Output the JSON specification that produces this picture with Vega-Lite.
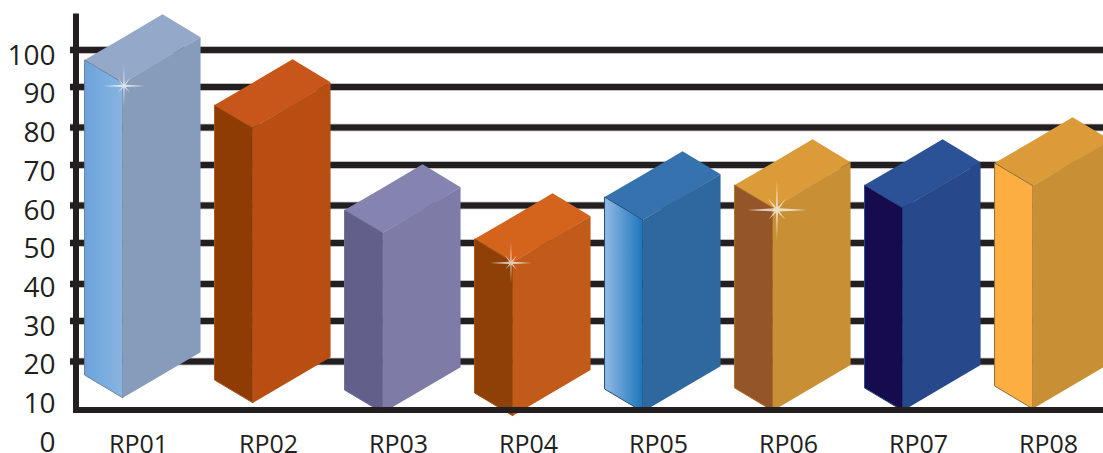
{
  "$schema": "https://vega.github.io/schema/vega-lite/v6.json",
  "width": 1103,
  "height": 453,
  "padding": 0,
  "autosize": {"type": "none"},
  "background": "white",
  "view": {"stroke": null},
  "config": {"font": "Open Sans"},
  "datasets": {
    "bars": [
      {"name": "RP01", "i": 0, "top": 98.45, "bottom": 17.16},
      {"name": "RP02", "i": 1, "top": 86.84, "bottom": 15.87},
      {"name": "RP03", "i": 2, "top": 59.74, "bottom": 13.29},
      {"name": "RP04", "i": 3, "top": 52.26, "bottom": 12.52},
      {"name": "RP05", "i": 4, "top": 63.1, "bottom": 13.55},
      {"name": "RP06", "i": 5, "top": 66.19, "bottom": 13.81},
      {"name": "RP07", "i": 6, "top": 66.19, "bottom": 13.81},
      {"name": "RP08", "i": 7, "top": 71.87, "bottom": 14.32}
    ],
    "levels": [
      {"level": 101.03}, {"level": 91.48}, {"level": 81.03},
      {"level": 71.35}, {"level": 60.88}, {"level": 51.23},
      {"level": 40.65}, {"level": 31.1}, {"level": 20.62}
    ],
    "frame": [
      {"spine": -0.477, "floor": 8.13, "ceiling": 110.45, "foot": 7.35, "start": -0.5, "end": 7.43}
    ],
    "glints": [
      {"at": -0.108, "v": 91.74, "glow": 1},
      {"at": 2.869, "v": 46.06, "glow": 1},
      {"at": 4.915, "v": 59.74, "glow": 2}
    ]
  },
  "layer": [
    {
      "data": {"name": "levels"},
      "mark": {"type": "rule", "stroke": "#a8a8a8", "strokeWidth": 7.5},
      "encoding": {
        "y": {
          "field": "level", "type": "quantitative",
          "scale": {"domain": [-2.97, 113.94], "range": [453, 0], "nice": false, "zero": false},
          "axis": {
            "title": null, "grid": false, "domain": false, "ticks": false,
            "values": [0, 10, 20, 30, 40, 50, 60, 70, 80, 90, 100],
            "offset": -55, "labelPadding": 0, "labelOffset": 2,
            "labelFontSize": 28, "labelColor": "#231f20", "labelFont": "Open Sans",
            "labelOverlap": false, "labelBound": false, "labelFlush": false
          }
        },
        "x": {
          "datum": -0.523, "type": "quantitative",
          "scale": {"domain": [-1.0615, 7.423], "range": [0, 1103], "nice": false, "zero": false},
          "axis": {
            "title": null, "grid": false, "domain": false, "ticks": false,
            "values": [0, 1, 2, 3, 4, 5, 6, 7],
            "labelExpr": "'RP0' + (datum.value + 1)",
            "offset": -1, "labelPadding": 0, "labelBaseline": "alphabetic",
            "labelFontSize": 25, "labelColor": "#231f20", "labelFont": "Open Sans",
            "labelOverlap": false, "labelBound": false, "labelFlush": false
          }
        },
        "x2": {"datum": 7.43}
      }
    },
    {
      "data": {"name": "levels"},
      "mark": {"type": "rule", "stroke": "#231f20", "strokeWidth": 6},
      "encoding": {
        "y": {"field": "level", "type": "quantitative"},
        "x": {"datum": -0.523, "type": "quantitative"},
        "x2": {"datum": 7.43}
      }
    },
    {
      "data": {"name": "frame"},
      "mark": {"type": "rule", "stroke": "#231f20", "strokeWidth": 6},
      "encoding": {
        "x": {"field": "spine", "type": "quantitative"},
        "y": {"field": "ceiling", "type": "quantitative"},
        "y2": {"field": "foot"}
      }
    },
    {
      "data": {"name": "bars"},
      "transform": [
        {"calculate": "[0, 0.295, 0.6, 0.8923]", "as": "dx"},
        {"calculate": "[0, -5.9, 0, 5.9]", "as": "near"},
        {"calculate": "[0, 5.75, 11.8, 5.9]", "as": "far"},
        {"flatten": ["dx", "near", "far"]},
        {"calculate": "datum.i - 0.411 + datum.dx", "as": "xp"},
        {"calculate": "datum.top + datum.far", "as": "upper"},
        {"calculate": "datum.top + datum.near", "as": "lower"}
      ],
      "mark": {"type": "area", "orient": "vertical", "clip": true},
      "encoding": {
        "x": {"field": "xp", "type": "quantitative"},
        "y": {"field": "upper", "type": "quantitative"},
        "y2": {"field": "lower"},
        "fill": {
          "field": "name", "type": "nominal", "legend": null,
          "scale": {
            "domain": ["RP01", "RP02", "RP03", "RP04", "RP05", "RP06", "RP07", "RP08"],
            "range": ["#94a9ca", "#c85519", "#8583b0", "#d4641c", "#3672ae", "#dc9b39", "#2b5297", "#dc9b39"]
          }
        }
      }
    },
    {
      "data": {"name": "bars"},
      "transform": [
        {"filter": "datum.name !== 'RP01' && datum.name !== 'RP05'"},
        {"calculate": "[0, 0.295]", "as": "dx"},
        {"calculate": "[0, -5.9]", "as": "drop"},
        {"flatten": ["dx", "drop"]},
        {"calculate": "datum.i - 0.411 + datum.dx", "as": "xp"},
        {"calculate": "datum.top + datum.drop", "as": "upper"},
        {"calculate": "datum.bottom + datum.drop", "as": "lower"}
      ],
      "mark": {"type": "area", "orient": "vertical", "strokeWidth": 1, "clip": true},
      "encoding": {
        "x": {"field": "xp", "type": "quantitative"},
        "y": {"field": "upper", "type": "quantitative"},
        "y2": {"field": "lower"},
        "fill": {
          "field": "name", "type": "nominal", "legend": null,
          "scale": {
            "domain": ["RP02", "RP03", "RP04", "RP06", "RP07", "RP08"],
            "range": ["#8e3b04", "#62608a", "#8f4006", "#945628", "#160b4c", "#fdae40"]
          }
        },
        "stroke": {
          "field": "name", "type": "nominal", "legend": null,
          "scale": {
            "domain": ["RP02", "RP03", "RP04", "RP06", "RP07", "RP08"],
            "range": ["#b0531f", "#6f6d98", "#a8500f", "#a77327", "#27488a", "#8c6d3a"]
          }
        }
      }
    },
    {
      "data": {"name": "bars"},
      "transform": [
        {"filter": "datum.name === 'RP01'"},
        {"calculate": "[0, 0.295]", "as": "dx"},
        {"calculate": "[0, -5.9]", "as": "drop"},
        {"flatten": ["dx", "drop"]},
        {"calculate": "datum.i - 0.411 + datum.dx", "as": "xp"},
        {"calculate": "datum.top + datum.drop", "as": "upper"},
        {"calculate": "datum.bottom + datum.drop", "as": "lower"}
      ],
      "mark": {
        "type": "area", "orient": "vertical", "strokeWidth": 1, "stroke": "#6f7f99",
        "fill": {"gradient": "linear", "x1": 0, "y1": 0, "x2": 1, "y2": 0, "stops": [{"offset": 0, "color": "#6ca3dc"}, {"offset": 1, "color": "#88b5e0"}]}
      },
      "encoding": {
        "x": {"field": "xp", "type": "quantitative"},
        "y": {"field": "upper", "type": "quantitative"},
        "y2": {"field": "lower"}
      }
    },
    {
      "data": {"name": "bars"},
      "transform": [
        {"filter": "datum.name === 'RP05'"},
        {"calculate": "[0, 0.295]", "as": "dx"},
        {"calculate": "[0, -5.9]", "as": "drop"},
        {"flatten": ["dx", "drop"]},
        {"calculate": "datum.i - 0.411 + datum.dx", "as": "xp"},
        {"calculate": "datum.top + datum.drop", "as": "upper"},
        {"calculate": "datum.bottom + datum.drop", "as": "lower"}
      ],
      "mark": {
        "type": "area", "orient": "vertical", "strokeWidth": 1, "stroke": "#1f4e7a",
        "fill": {"gradient": "linear", "x1": 0, "y1": 0, "x2": 1, "y2": 0, "stops": [{"offset": 0, "color": "#93b9e4"}, {"offset": 1, "color": "#1b75bc"}]}
      },
      "encoding": {
        "x": {"field": "xp", "type": "quantitative"},
        "y": {"field": "upper", "type": "quantitative"},
        "y2": {"field": "lower"}
      }
    },
    {
      "data": {"name": "bars"},
      "transform": [
        {"calculate": "[0.295, 0.8923]", "as": "dx"},
        {"calculate": "[-5.9, 5.9]", "as": "drop"},
        {"flatten": ["dx", "drop"]},
        {"calculate": "datum.i - 0.411 + datum.dx", "as": "xp"},
        {"calculate": "datum.top + datum.drop", "as": "upper"},
        {"calculate": "datum.bottom + datum.drop", "as": "lower"}
      ],
      "mark": {"type": "area", "orient": "vertical", "clip": true},
      "encoding": {
        "x": {"field": "xp", "type": "quantitative"},
        "y": {"field": "upper", "type": "quantitative"},
        "y2": {"field": "lower"},
        "fill": {
          "field": "name", "type": "nominal", "legend": null,
          "scale": {
            "domain": ["RP01", "RP02", "RP03", "RP04", "RP05", "RP06", "RP07", "RP08"],
            "range": ["#879cbb", "#b84e12", "#7e7ca7", "#c25b1a", "#2f689f", "#c88f35", "#27488a", "#c88f35"]
          }
        }
      }
    },
    {
      "data": {"name": "frame"},
      "mark": {"type": "rule", "stroke": "#231f20", "strokeWidth": 6},
      "encoding": {
        "y": {"field": "floor", "type": "quantitative"},
        "x": {"field": "start", "type": "quantitative"},
        "x2": {"field": "end"}
      }
    },
    {
      "data": {"name": "glints"},
      "mark": {
        "type": "point", "filled": true, "fill": "#ffffff", "fillOpacity": 0.7, "stroke": null,
        "shape": "M0,-1 L0.03,-0.1 L0.3,-0.38 L0.08,-0.06 L1,0 L0.08,0.05 L0.28,0.32 L0.03,0.08 L0,1 L-0.03,0.08 L-0.28,0.32 L-0.08,0.05 L-1,0 L-0.08,-0.06 L-0.3,-0.38 L-0.03,-0.1 Z"
      },
      "encoding": {
        "x": {"field": "at", "type": "quantitative"},
        "y": {"field": "v", "type": "quantitative"},
        "size": {
          "field": "glow", "type": "quantitative", "legend": null,
          "scale": {"domain": [1, 2], "range": [1764, 3600]}
        }
      }
    }
  ],
  "resolve": {"scale": {"fill": "independent", "stroke": "independent"}}
}
